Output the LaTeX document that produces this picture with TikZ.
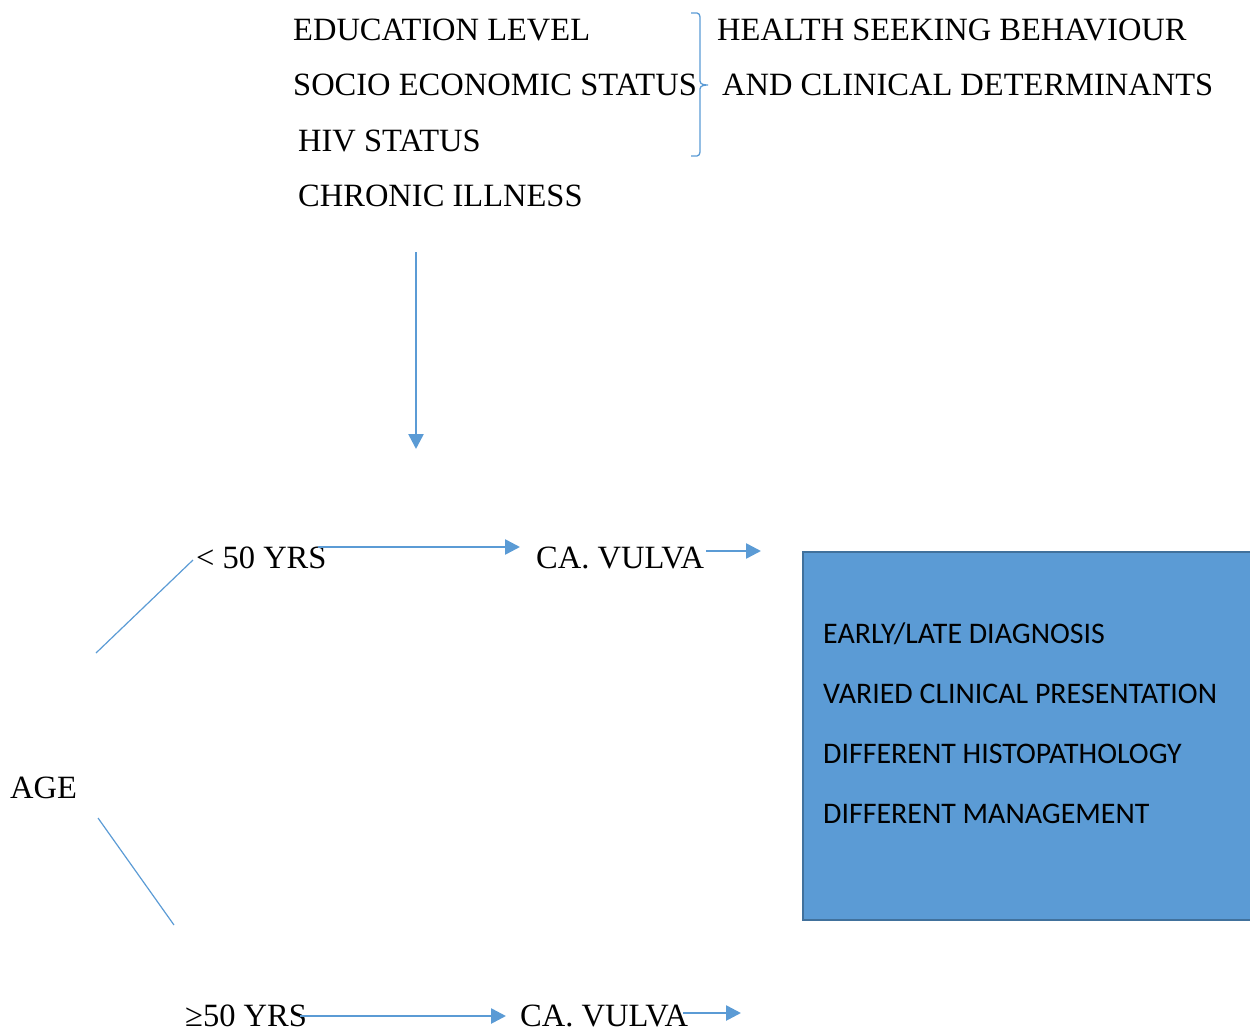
\documentclass[tikz,border=0pt]{standalone}
\usepackage{fontspec}
\setmainfont{Liberation Serif}
\newfontfamily\boxfont{Carlito}
\usetikzlibrary{arrows.meta}
\definecolor{lblue}{HTML}{5B9BD5}
\definecolor{dblue}{HTML}{41719C}
\begin{document}
\begin{tikzpicture}[x=1pt,y=-1pt,
  lbl/.style={anchor=base west,inner sep=0pt,font=\fontsize{32.5}{38}\selectfont},
  blbl/.style={anchor=base west,inner sep=0pt,font=\boxfont\fontsize{29.9}{35}\selectfont},
  conn/.style={draw=lblue,line width=2.6pt,-{Triangle[length=15pt,width=15pt]}},
  thin/.style={draw=lblue,line width=1.2pt}]
\useasboundingbox (0,0) rectangle (1250,1030);
% top texts
\node[lbl] (edu) at (293,41) {EDUCATION LEVEL};
\node[lbl] (ses) at (293,96) {SOCIO ECONOMIC STATUS};
\node[lbl] (hiv) at (298,151) {HIV STATUS};
\node[lbl] (chr) at (298,206) {CHRONIC ILLNESS};
\node[lbl] (hsb) at (717,41) {HEALTH SEEKING BEHAVIOUR};
\node[lbl] (acd) at (722,96) {AND CLINICAL DETERMINANTS};
% brace
\draw[thin,line width=1.3pt] (691,13) -- (697,13) to[out=0,in=90] (700,17) -- (700,81) to[out=-90,in=180] (708,85)
  (708,85) to[out=180,in=90] (700,89) -- (700,152) to[out=-90,in=0] (697,156) -- (691,156);
% vertical arrow
\coordinate (vtop) at (416,252);
\coordinate (vbot) at (416,449);
\draw[conn] (vtop) -- (vbot);
% upper branch
\node[lbl] (lt) at (196,568) {< 50 YRS};
\node[lbl] (ca1) at (536,568) {CA. VULVA};
\coordinate (a1s) at (318,547);
\coordinate (a1e) at (520,547);
\draw[conn] (a1s) -- (a1e);
\coordinate (a2s) at (706,551);
\coordinate (a2e) at (761,551);
\draw[conn] (a2s) -- (a2e);
% age
\node[lbl] (age) at (10,798) {AGE};
\coordinate (d1a) at (193,560);
\coordinate (d1b) at (96,653);
\draw[thin] (d1a) -- (d1b);
\coordinate (d2a) at (98,818);
\coordinate (d2b) at (174,925);
\draw[thin] (d2a) -- (d2b);
% lower branch
\node[lbl] (ge) at (185,1026) {≥50 YRS};
\node[lbl] (ca2) at (520,1026) {CA. VULVA};
\coordinate (b1s) at (300,1016);
\coordinate (b1e) at (506,1016);
\draw[conn] (b1s) -- (b1e);
\coordinate (b2s) at (683,1013);
\coordinate (b2e) at (741,1013);
\draw[conn] (b2s) -- (b2e);
% box
\node[draw=dblue,line width=2pt,fill=lblue,anchor=north west,minimum width=448pt,minimum height=368pt,inner sep=0pt] (box) at (802,551) {};
\node[blbl] (t1) at (823,643) {EARLY/LATE DIAGNOSIS};
\node[blbl] (t2) at (823,703) {VARIED CLINICAL PRESENTATION};
\node[blbl] (t3) at (823,763) {DIFFERENT HISTOPATHOLOGY};
\node[blbl] (t4) at (823,823) {DIFFERENT MANAGEMENT};
\end{tikzpicture}
\end{document}
